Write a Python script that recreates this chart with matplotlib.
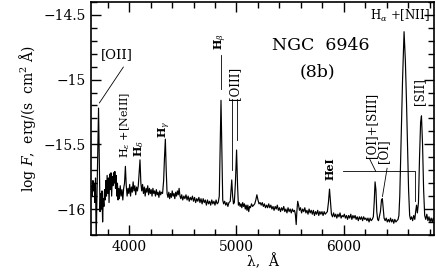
"""
NGC 6946 region 8b spectrum, log flux vs wavelength
"""

import numpy as np
import matplotlib.pyplot as plt

# spectrum (wavelength in A, log flux)
wave = [3652, 3658, 3664, 3670, 3676, 3682, 3688, 3694, 3700, 3708, 3716, 3724, 3730, 3736, 3742, 3748,
        3754, 3760, 3766, 3772, 3778, 3784, 3790, 3796, 3802, 3808, 3814, 3820, 3826, 3832, 3838, 3844,
        3850, 3856, 3862, 3868, 3874, 3880, 3886, 3892, 3898, 3904, 3910, 3918, 3926, 3934, 3942, 3950,
        3958, 3966, 3974, 3982, 3990, 3998, 4006, 4014, 4022, 4030, 4038, 4046, 4054, 4062, 4070, 4078,
        4086, 4094, 4102, 4110, 4118, 4126, 4134, 4142, 4150, 4158, 4166, 4174, 4182, 4190, 4198, 4206,
        4214, 4222, 4230, 4238, 4246, 4254, 4262, 4270, 4278, 4286, 4294, 4302, 4312, 4322, 4330, 4338,
        4346, 4354, 4362, 4370, 4378, 4386, 4394, 4402, 4410, 4418, 4426, 4434, 4442, 4450, 4458, 4466,
        4474, 4482, 4490, 4500, 4510, 4520, 4530, 4540, 4550, 4560, 4570, 4580, 4590, 4600, 4610, 4620,
        4630, 4640, 4650, 4660, 4670, 4680, 4690, 4700, 4710, 4720, 4730, 4740, 4750, 4760, 4770, 4780,
        4790, 4800, 4810, 4820, 4830, 4840, 4848, 4856, 4864, 4872, 4880, 4890, 4900, 4910, 4920, 4930,
        4942, 4950, 4956, 4964, 4972, 4980, 4990, 5001, 5010, 5018, 5026, 5034, 5042, 5050, 5058, 5066,
        5074, 5082, 5090, 5098, 5106, 5114, 5122, 5130, 5140, 5150, 5160, 5170, 5180, 5190, 5200, 5210,
        5220, 5230, 5240, 5250, 5260, 5270, 5280, 5290, 5300, 5310, 5320, 5330, 5340, 5350, 5360, 5370,
        5380, 5390, 5400, 5410, 5420, 5430, 5440, 5450, 5460, 5470, 5480, 5490, 5500, 5510, 5520, 5530,
        5540, 5548, 5556, 5562, 5570, 5578, 5586, 5596, 5606, 5616, 5626, 5636, 5646, 5656, 5666, 5676,
        5686, 5696, 5706, 5716, 5726, 5736, 5746, 5756, 5766, 5776, 5786, 5796, 5806, 5816, 5826, 5836,
        5846, 5856, 5866, 5876, 5884, 5894, 5904, 5914, 5924, 5934, 5944, 5954, 5964, 5974, 5984, 5994,
        6004, 6014, 6024, 6034, 6044, 6054, 6064, 6074, 6084, 6094, 6104, 6114, 6124, 6134, 6144, 6154,
        6164, 6174, 6184, 6194, 6204, 6214, 6224, 6234, 6244, 6254, 6264, 6274, 6282, 6290, 6298, 6306,
        6314, 6322, 6330, 6340, 6350, 6358, 6366, 6374, 6384, 6394, 6404, 6414, 6424, 6434, 6444, 6454,
        6464, 6474, 6484, 6494, 6504, 6512, 6520, 6532, 6546, 6560, 6572, 6582, 6592, 6602, 6612, 6620,
        6630, 6640, 6650, 6660, 6668, 6676, 6684, 6694, 6704, 6714, 6722, 6732, 6742, 6752, 6762, 6772,
        6782, 6792, 6802, 6812, 6822, 6832, 6840]

logf = [-15.82, -15.90, -15.78, -15.86, -15.80, -15.95, -15.76, -16.25, -15.95, -15.60, -15.22, -15.70, -16.02, -15.88, -16.00, -15.86,
        -16.10, -15.92, -15.98, -15.85, -15.93, -15.78, -15.90, -15.74, -15.88, -15.76, -15.95, -15.73, -15.85, -15.72, -15.90, -15.75,
        -15.82, -15.72, -15.80, -15.71, -15.84, -15.74, -15.90, -15.80, -15.93, -15.84, -15.92, -15.82, -15.90, -15.85, -15.93, -15.84,
        -15.80, -15.67, -15.82, -15.90, -15.84, -15.88, -15.81, -15.90, -15.83, -15.87, -15.79, -15.86, -15.82, -15.89, -15.83, -15.86,
        -15.82, -15.72, -15.62, -15.80, -15.86, -15.81, -15.88, -15.83, -15.90, -15.84, -15.87, -15.82, -15.89, -15.84, -15.88, -15.85,
        -15.90, -15.84, -15.88, -15.86, -15.90, -15.85, -15.89, -15.87, -15.91, -15.86, -15.89, -15.87, -15.88, -15.78, -15.60, -15.46,
        -15.70, -15.88, -15.91, -15.87, -15.92, -15.88, -15.91, -15.86, -15.90, -15.88, -15.92, -15.87, -15.90, -15.86, -15.89, -15.84,
        -15.90, -15.92, -15.89, -15.93, -15.90, -15.92, -15.89, -15.93, -15.90, -15.94, -15.91, -15.93, -15.90, -15.94, -15.91, -15.95,
        -15.92, -15.94, -15.91, -15.95, -15.92, -15.96, -15.92, -15.95, -15.93, -15.97, -15.93, -15.96, -15.94, -15.97, -15.93, -15.96,
        -15.94, -15.97, -15.93, -15.96, -15.95, -15.90, -15.55, -15.16, -15.55, -15.93, -15.96, -15.94, -15.97, -15.95, -15.98, -15.95,
        -15.94, -15.85, -15.775, -15.90, -15.96, -15.95, -15.80, -15.544, -15.82, -15.97, -15.95, -15.98, -15.96, -15.99, -15.95, -15.98,
        -15.96, -16.00, -15.97, -16.01, -15.97, -16.02, -15.98, -15.99, -15.96, -15.98, -15.97, -15.96, -15.93, -15.89, -15.93, -15.96,
        -15.95, -15.97, -15.95, -15.98, -15.96, -15.99, -15.97, -15.99, -15.96, -15.99, -15.97, -16.00, -15.98, -16.01, -15.98, -16.00,
        -15.97, -16.01, -15.99, -16.02, -15.99, -16.01, -15.98, -16.02, -16.00, -16.03, -15.99, -16.02, -16.00, -16.03, -16.00, -16.02,
        -16.01, -16.04, -16.12, -16.02, -15.94, -15.97, -16.01, -15.99, -16.03, -16.00, -16.02, -15.99, -16.03, -16.01, -16.04, -16.00,
        -16.03, -16.01, -16.04, -16.01, -16.05, -16.02, -16.04, -16.01, -16.05, -16.02, -16.04, -16.02, -16.05, -16.02, -16.04, -16.03,
        -16.02, -15.95, -15.846, -15.95, -16.04, -16.06, -16.03, -16.06, -16.04, -16.07, -16.04, -16.06, -16.03, -16.07, -16.05, -16.06,
        -16.04, -16.07, -16.05, -16.08, -16.05, -16.07, -16.04, -16.08, -16.05, -16.07, -16.05, -16.08, -16.06, -16.09, -16.06, -16.08,
        -16.06, -16.09, -16.06, -16.08, -16.07, -16.09, -16.07, -16.10, -16.07, -16.09, -16.08, -16.06, -15.95, -15.79, -15.85, -16.02,
        -16.08, -16.09, -16.06, -16.02, -15.93, -15.92, -16.00, -16.07, -16.09, -16.07, -16.10, -16.08, -16.10, -16.07, -16.10, -16.08,
        -16.11, -16.08, -16.10, -16.09, -16.08, -16.05, -15.90, -15.50, -15.00, -14.63, -14.85, -15.15, -15.50, -15.85, -16.05, -16.08,
        -16.06, -16.09, -16.05, -16.08, -16.02, -15.97, -16.03, -15.95, -15.60, -15.33, -15.28, -15.50, -15.85, -16.05, -16.08, -16.04,
        -16.09, -16.06, -16.10, -16.07, -16.10, -16.07, -16.09]

xticks = [4000, 5000, 6000]
xtick_labels = ["4000", "5000", "6000"]
yticks = [-14.5, -15, -15.5, -16]
ytick_labels = ["\u221214.5", "\u221215", "\u221215.5", "\u221216"]

# line ids: text, wavelength, bottom of text (log F), size, weight
line_ids = [
    (r"H$_\epsilon$ +[NeIII]", 3960, -15.608, 8, 'normal'),
    (r"H$_\delta$", 4090, -15.598, 8, 'bold'),
    (r"H$_\gamma$", 4331, -15.454, 8, 'bold'),
    (r"H$_\beta$", 4858, -14.775, 8, 'bold'),
    ("[OIII]", 4983, -15.16, 8.5, 'normal'),
    ("HeI", 5869, -15.775, 8, 'bold'),
    ("[OI]+[SIII]", 6257, -15.608, 8.5, 'normal'),
    ("[OI]", 6371, -15.646, 8.5, 'normal'),
    ("[SII]", 6706, -15.198, 8.5, 'normal'),
]

# pointer segments
pointers = [
    ([3947, 3724], [-14.903, -15.18]),
    ([4856, 4856], [-14.813, -15.07]),
    ([4955, 4955], [-15.152, -15.70]),
    ([5001, 5001], [-15.152, -15.467]),
    ([5993, 6660, 6660], [-15.703, -15.703, -15.94]),
    ([6241, 6297], [-15.615, -15.71]),
    ([6402, 6359], [-15.685, -15.903]),
]

plt.rcParams['font.family'] = 'DejaVu Serif'
plt.rcParams['mathtext.fontset'] = 'dejavuserif'

fig = plt.figure(figsize=(4.36, 2.79), dpi=100)
ax = fig.add_axes([0.209, 0.158, 0.786, 0.835])

ax.plot(wave, logf, color='k', linewidth=0.85)

for xs, ys in pointers:
    ax.plot(xs, ys, color='k', linewidth=0.6)

for txt, x, y, fs, fw in line_ids:
    ax.text(x, y, txt, rotation=90, ha='center', va='bottom', fontsize=fs, fontweight=fw)

ax.text(3886, -14.808, "[OII]", ha='center', va='center', fontsize=9.5)
ax.text(6520, -14.505, r"H$_\alpha$ +[NII]", ha='center', va='center', fontsize=8.5)
ax.text(5786, -14.736, "NGC  6946", ha='center', va='center', fontsize=12.5)
ax.text(5758, -14.944, "(8b)", ha='center', va='center', fontsize=12.5)

ax.set_xlim(3647, 6837)
ax.set_ylim(-16.2, -14.405)
ax.set_xticks(xticks, xtick_labels)
ax.set_yticks(yticks, ytick_labels)
ax.set_xticks(np.arange(3800, 6801, 200), minor=True)
ax.set_yticks(np.arange(-16.2, -14.39, 0.1), minor=True)
ax.tick_params(which='both', direction='in', top=True, right=True, width=1, labelsize=10)
ax.tick_params(which='major', length=7)
ax.tick_params(which='minor', length=4)
for s in ax.spines.values():
    s.set_linewidth(1.2)

ax.set_xlabel("\u03bb,  Å", fontsize=10, labelpad=0)
ax.set_ylabel(r"log $F$,  erg/(s  cm$^2$ Å)", fontsize=10, labelpad=4)

fig.savefig("out.png", dpi=100)
